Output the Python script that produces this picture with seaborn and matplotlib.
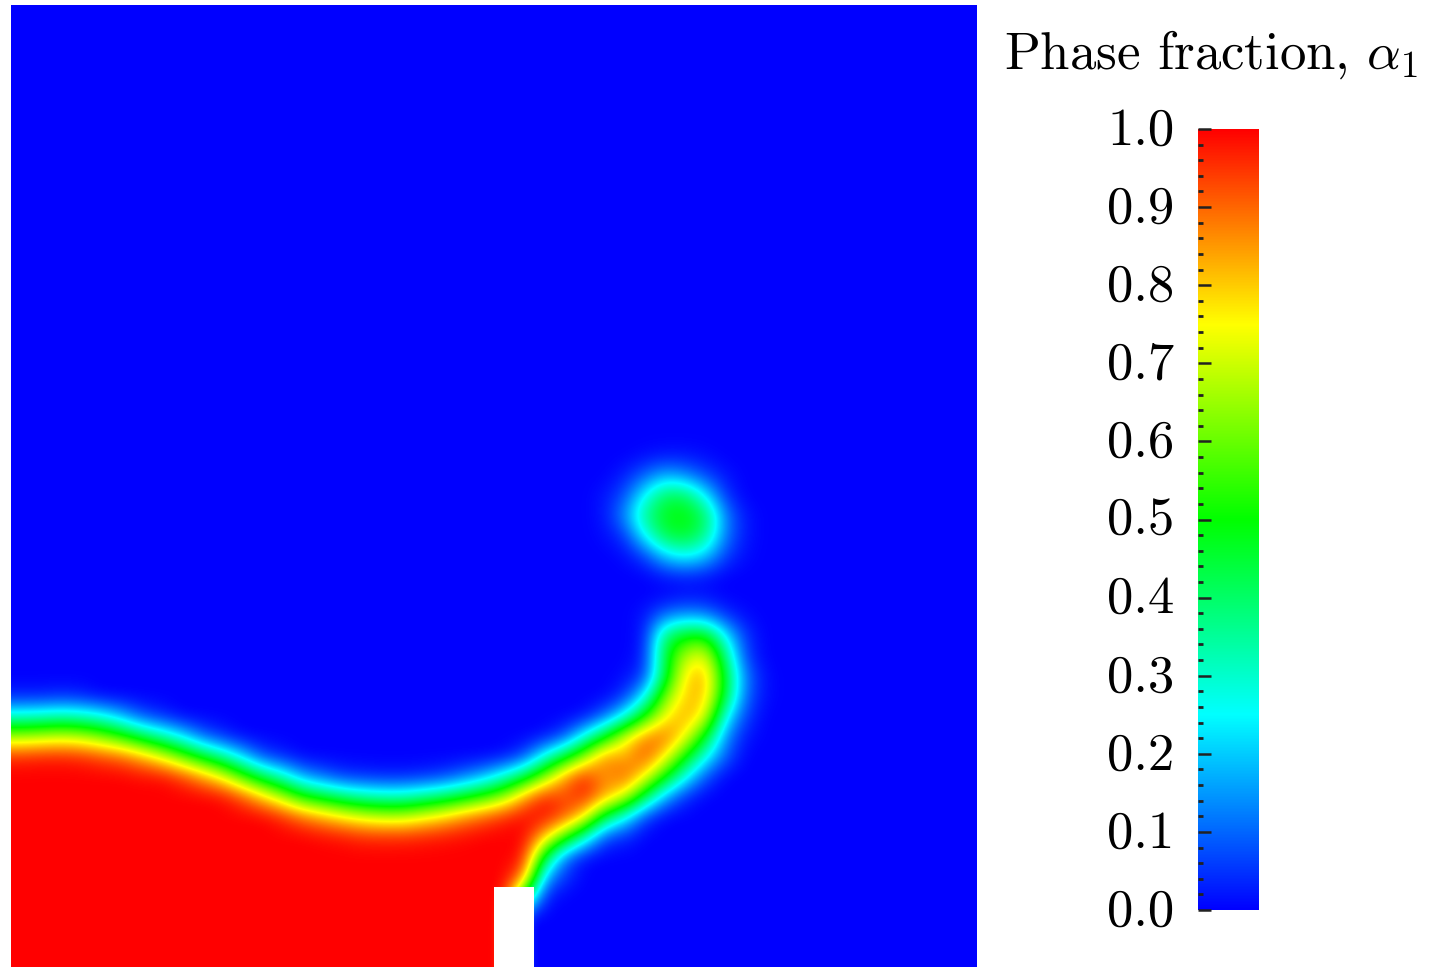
import numpy as np
import matplotlib
matplotlib.use("Agg")
import matplotlib.pyplot as plt
from matplotlib.colors import LinearSegmentedColormap
from matplotlib.patches import Rectangle
from matplotlib.ticker import MultipleLocator
from matplotlib.transforms import ScaledTranslation
import seaborn as sns

N_CELLS = 48
top_zero_rows = 22
rainbow_colors = ["#0000ff", "#00ffff", "#00ff00", "#ffff00", "#ff0000"]
tick_values = [0.0, 0.1, 0.2, 0.3, 0.4, 0.5, 0.6, 0.7, 0.8, 0.9, 1.0]
tick_labels = ["0.0", "0.1", "0.2", "0.3", "0.4", "0.5", "0.6", "0.7", "0.8", "0.9", "1.0"]
title_text = "Phase fraction, $\\alpha_1$"
obstacle_cols = [24, 25]
obstacle_rows = [44, 45, 46, 47]

# phase fraction in percent, row by row, columns 0..37 (the rest of each row is gas)
r22 = [0]*31 + [1, 2, 2, 1, 0, 0, 0]
r23 = [0]*30 + [3, 10, 18, 14, 7, 2, 0, 0]
r24 = [0]*29 + [2, 8, 26, 42, 42, 25, 5, 0, 0]
r25 = [0]*29 + [2, 14, 36, 48, 50, 42, 13, 2, 0]
r26 = [0]*29 + [1, 5, 25, 43, 46, 37, 12, 2, 0]
r27 = [0]*30 + [1, 6, 20, 26, 20, 6, 1, 0]
r28 = [0]*32 + [2, 3, 2, 0, 0, 0]
r29 = [0]*33 + [1, 1, 0, 0, 0]
r30 = [0]*31 + [2, 12, 16, 14, 5, 1, 0]
r31 = [0]*31 + [2, 40, 50, 52, 25, 5, 0]
r32 = [0]*31 + [3, 45, 68, 75, 38, 6, 0]
r33 = [0]*30 + [1, 6, 44, 78, 84, 46, 12, 1]
r34 = [3, 3, 4, 3] + [0]*26 + [5, 24, 62, 80, 82, 44, 10, 1]
r35 = [30, 31, 33, 31, 27, 18, 8, 4] + [0]*20 + [1, 10, 26, 52, 75, 84, 74, 26, 6, 0]
r36 = [66, 68, 70, 68, 62, 54, 43, 33, 23, 10, 4] + [0]*15 + [1, 7, 27, 47, 72, 87, 90, 76, 48, 14, 2, 0]
r37 = [96, 97, 97, 96, 93, 90, 83, 73, 60, 47, 35, 21, 7, 3] + [0]*10 + [1, 7, 27, 45, 65, 88, 82, 93, 77, 51, 27, 9, 0, 0]
r38 = [100]*6 + [99, 99, 94, 85, 74, 57, 42, 30, 16, 10, 5, 4, 3, 3, 4, 6, 11, 18, 29, 43, 63, 85, 97, 84, 92, 76, 51, 27, 8, 0, 0, 0]
r39 = [100]*10 + [99, 92, 80, 67, 52, 45, 38, 33, 31, 31, 35, 40, 47, 55, 65, 84, 97, 92, 97, 85, 72, 43, 17, 4, 0, 0, 0, 0]
r40 = [100]*13 + [96, 89, 83, 77, 72, 69, 69, 74, 79, 86, 91, 96, 99, 99, 93, 78, 44, 26, 6, 0, 0, 0, 0, 0, 0]
r41 = [100]*15 + [99, 98, 96, 96, 96, 97, 98, 99, 100, 100, 100, 82, 58, 32, 7, 4, 0, 0, 0, 0, 0, 0, 0]
r42 = [100]*25 + [98, 47, 12, 1] + [0]*9
r43 = [100]*25 + [88, 18, 5] + [0]*10
r44 = [100]*25 + [45, 3] + [0]*11
r45 = [100]*25 + [0]*13
r46 = [100]*25 + [0]*13
r47 = [100]*25 + [0]*13

rows = [r22, r23, r24, r25, r26, r27, r28, r29, r30, r31, r32, r33, r34, r35,
        r36, r37, r38, r39, r40, r41, r42, r43, r44, r45, r46, r47]

alpha = np.zeros((N_CELLS, N_CELLS))
for i, row in enumerate(rows):
    alpha[top_zero_rows + i, :len(row)] = np.array(row) / 100.0

W, H = 1435, 968
plt.rcParams["font.family"] = ["cmr10", "DejaVu Sans"]
plt.rcParams["mathtext.fontset"] = "cm"
plt.rcParams["axes.formatter.use_mathtext"] = True

cmap = LinearSegmentedColormap.from_list("phase", rainbow_colors, N=512)
fig = plt.figure(figsize=(W / 100, H / 100), dpi=100)
ax = fig.add_axes([11 / W, 1 - 967 / H, 966 / W, 962 / H])
cax = fig.add_axes([1198 / W, 1 - 910 / H, 61 / W, 781 / H])

sns.heatmap(alpha, ax=ax, cbar_ax=cax, cmap=cmap, vmin=0, vmax=1,
            xticklabels=False, yticklabels=False, square=False)
ax.collections[0].set_visible(False)
ax.imshow(alpha, cmap=cmap, vmin=0, vmax=1, interpolation="bicubic",
          extent=(0, N_CELLS, N_CELLS, 0), aspect="auto", zorder=2)
ax.add_patch(Rectangle((obstacle_cols[0], obstacle_rows[0]), len(obstacle_cols),
                       len(obstacle_rows), facecolor="white", edgecolor="none", zorder=3))
ax.set_xlim(0, N_CELLS)
ax.set_ylim(N_CELLS, 0)
ax.tick_params(left=False, bottom=False)
for s in ax.spines.values():
    s.set_visible(False)

cb = ax.collections[0].colorbar
cb.outline.set_visible(False)
cax.yaxis.set_ticks_position("left")
cax.set_yticks(tick_values)
cax.set_yticklabels(tick_labels, fontsize=38)
cax.yaxis.set_minor_locator(MultipleLocator(0.02))
cax.tick_params(axis="y", which="major", direction="in", length=9, width=1.8, pad=17, color="#222222")
cax.tick_params(axis="y", which="minor", direction="in", length=3.5, width=2.0, color="#222222")
for label in cax.get_yticklabels():
    label.set_transform(label.get_transform() + ScaledTranslation(0, 3 / 100, fig.dpi_scale_trans))

fig.text(1004 / W, 1 - 69 / H, title_text, fontsize=38, ha="left", va="baseline", color="black")
fig.savefig("out.png", dpi=100)
